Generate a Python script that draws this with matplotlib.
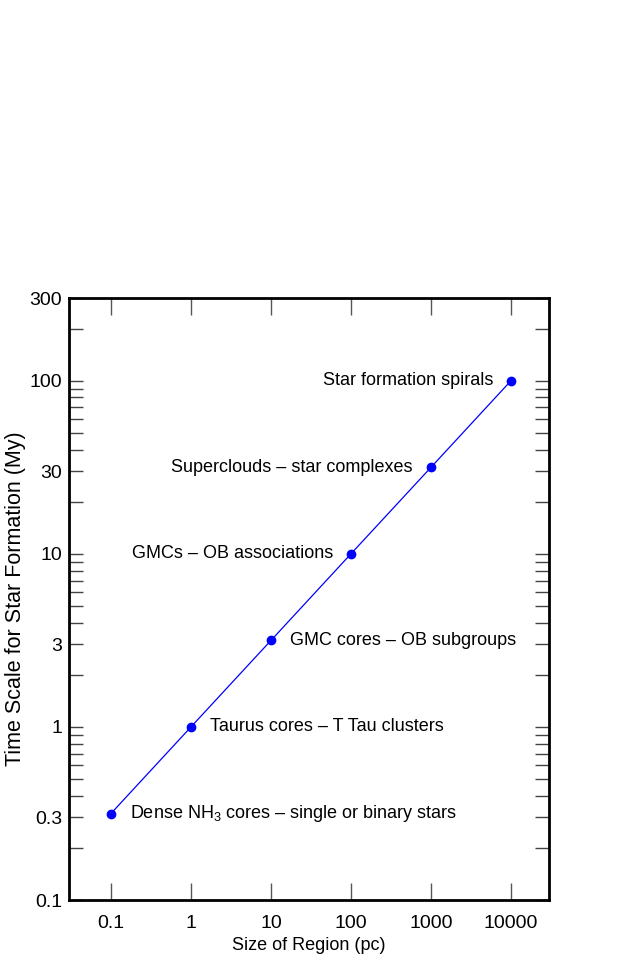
import numpy as np
import matplotlib as mpl
mpl.use("Agg")
import matplotlib.pyplot as plt
from matplotlib.ticker import FixedLocator, NullFormatter

# region size (pc) vs time scale (My)
sizes = [0.1, 1, 10, 100, 1000, 10000]
times = [0.316, 1.0, 3.16, 10.0, 31.6, 100.0]
labels = [
    r"Dense NH$_3$ cores – single or binary stars",
    "Taurus cores – T Tau clusters",
    "GMC cores – OB subgroups",
    "GMCs – OB associations",
    "Superclouds – star complexes",
    "Star formation spirals",
]
label_side = ["right", "right", "right", "left", "left", "left"]

xticks = [0.1, 1, 10, 100, 1000, 10000]
xticklabels = ["0.1", "1", "10", "100", "1000", "10000"]
yticks = [0.1, 0.3, 1, 3, 10, 30, 100, 300]
yticklabels = ["0.1", "0.3", "1", "3", "10", "30", "100", "300"]

plt.rcParams['font.family'] = ['Liberation Sans', 'DejaVu Sans']
plt.rcParams['mathtext.fontset'] = 'custom'
plt.rcParams['mathtext.rm'] = 'Liberation Sans'
plt.rcParams['mathtext.it'] = 'Liberation Sans:italic'

fig = plt.figure(figsize=(6.3, 9.59), dpi=100)
ax = fig.add_axes([0.1095, 0.0615, 0.762, 0.6277])

ax.plot(sizes, times, '-', color='blue', lw=0.9, marker='o', ms=6)
ax.set_xscale('log')
ax.set_yscale('log')
ax.set_xlim(10**-1.525, 10**4.475)
ax.set_ylim(0.1, 300)

for x, y, t, side in zip(sizes, times, labels, label_side):
    if side == "right":
        ax.annotate(t, (x, y), xytext=(14, 0), textcoords='offset points',
                    ha='left', va='center', fontsize=13)
    else:
        ax.annotate(t, (x, y), xytext=(-13, 0), textcoords='offset points',
                    ha='right', va='center', fontsize=13)

ax.xaxis.set_major_locator(FixedLocator(xticks))
ax.set_xticklabels(xticklabels)
ax.xaxis.set_minor_locator(FixedLocator([]))

minor = [m * 10.0**d for d in range(-1, 3) for m in range(2, 10)]
minor = [v for v in minor if v not in yticks and v < 300]
ax.yaxis.set_major_locator(FixedLocator(yticks))
ax.set_yticklabels(yticklabels)
ax.yaxis.set_minor_locator(FixedLocator(minor))
ax.yaxis.set_minor_formatter(NullFormatter())

ax.tick_params(axis='x', which='major', direction='in', length=12, width=1,
               color='#555555', top=True, labelsize=14, pad=11)
ax.tick_params(axis='y', which='both', direction='in', length=10, width=1,
               color='#444444', right=True, labelsize=14, pad=5)

for s in ax.spines.values():
    s.set_linewidth(2)

ax.set_xlabel("Size of Region (pc)", fontsize=13)
ax.xaxis.set_label_coords(0.5, -0.075)
ax.xaxis.label.set_va('center')
ax.set_ylabel("Time Scale for Star Formation (My)", fontsize=15.5)
ax.yaxis.set_label_coords(-0.112, 0.5)
ax.yaxis.label.set_va('center')

fig.savefig("out.png", dpi=100)
